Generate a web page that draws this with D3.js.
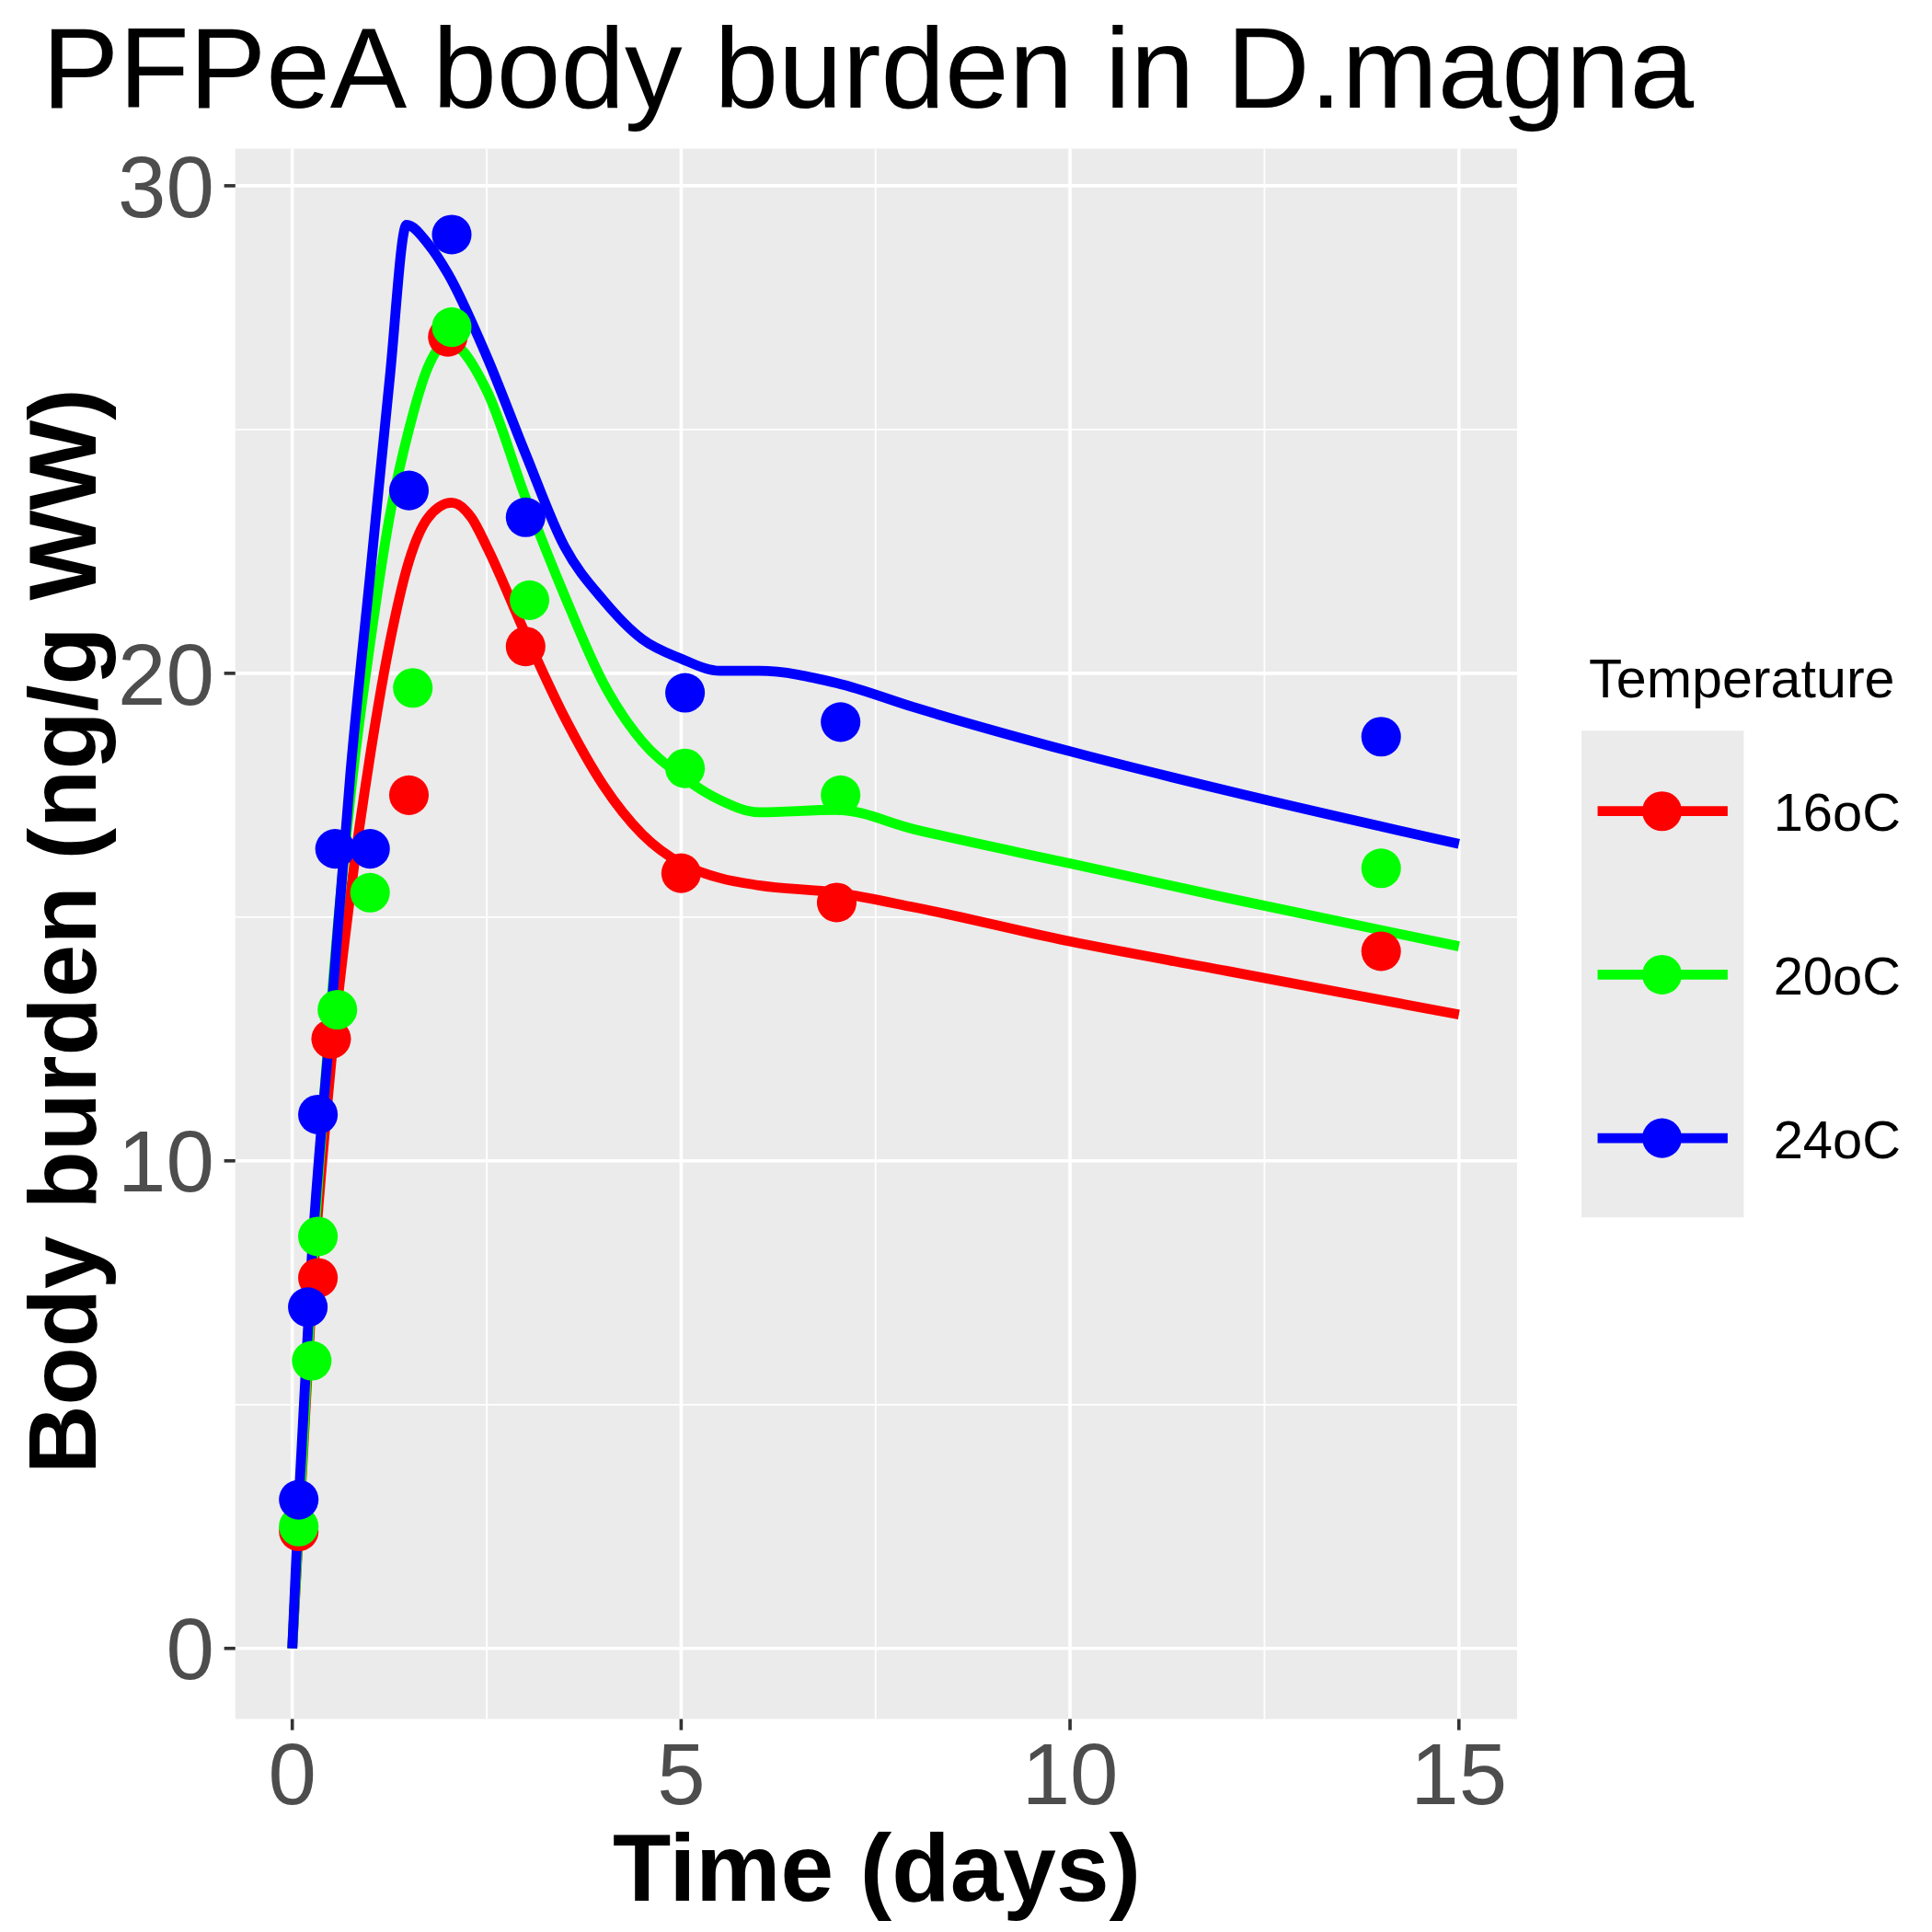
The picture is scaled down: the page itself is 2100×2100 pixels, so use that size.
<!DOCTYPE html><html><head><meta charset="utf-8"><script src="https://cdn.jsdelivr.net/npm/d3@7"></script>
<style>body{margin:0;background:#fff}text{font-family:Arial,"Liberation Sans",sans-serif}</style></head><body><script>
const series=["16oC","20oC","24oC"];
const colors=["#FF0000","#00FF00","#0000FF"];
const obs16=[[0.083,2.4],[0.33,7.6],[0.5,12.5],[1.5,17.5],[2,26.9],[3,20.55],[5,15.9],[7,15.3],[14,14.3]];
const obs20=[[0.083,2.5],[0.25,5.9],[0.33,8.45],[0.58,13.1],[1,15.5],[1.55,19.7],[2.05,27.1],[3.05,21.5],[5.05,18.05],[7.05,17.5],[14,16.0]];
const obs24=[[0.083,3.05],[0.2,7.0],[0.33,10.95],[0.55,16.4],[1.0,16.4],[1.5,23.75],[2.05,29.0],[3,23.2],[5.05,19.6],[7.05,19.0],[14,18.7]];
const fit16=[[0,0],[0.25,7.2],[0.5,12],[0.75,15.5],[1,18.3],[1.25,20.6],[1.5,22.3],[1.75,23.2],[2.05,23.5],[2.3,23.2],[2.5,22.6],[3,20.8],[3.5,19.1],[4,17.7],[4.5,16.7],[5,16.1],[5.5,15.8],[6,15.65],[7,15.5],[8,15.2],[10,14.5],[12,13.9],[15,13.0]];
const fit20=[[0,0],[0.25,7.5],[0.5,13.2],[0.75,17.5],[1,20.6],[1.25,23.2],[1.5,25],[1.75,26.3],[2,26.8],[2.5,25.8],[3,23.6],[3.5,21.6],[4,19.8],[4.5,18.6],[5,17.9],[5.5,17.4],[6,17.15],[7,17.2],[8,16.8],[10,16.1],[12,15.4],[15,14.4]];
const fit24=[[0,0],[0.083,3],[0.25,8],[0.5,13],[0.75,18],[1,22],[1.25,26],[1.47,29.2],[1.75,28.8],[2,28.2],[2.5,26.5],[3,24.5],[3.5,22.6],[4,21.5],[4.5,20.7],[5,20.3],[5.5,20.05],[6,20.05],[7,19.8],[8,19.3],[10,18.4],[12,17.6],[15,16.5]];
const obs=[obs16,obs20,obs24], fits=[fit16,fit20,fit24];
const xTicks=[0,5,10,15], yTicks=[0,10,20,30];
const svg=d3.select("body").append("svg").attr("width",2100).attr("height",2100).attr("viewBox","0 0 1560 1560");
const L=190,R=1225,T=120,B=1388;
const x=d3.scaleLinear().domain([0,15]).range([236,1178]);
const y=d3.scaleLinear().domain([0,30]).range([1331,150]);
svg.append("rect").attr("x",L).attr("y",T).attr("width",R-L).attr("height",B-T).attr("fill","#EBEBEB");
const g=svg.append("g");
[2.5,7.5,12.5].forEach(v=>g.append("line").attr("x1",x(v)).attr("x2",x(v)).attr("y1",T).attr("y2",B).attr("stroke","#fff").attr("stroke-width",1.3));
[5,15,25].forEach(v=>g.append("line").attr("y1",y(v)).attr("y2",y(v)).attr("x1",L).attr("x2",R).attr("stroke","#fff").attr("stroke-width",1.3));
xTicks.forEach(v=>g.append("line").attr("x1",x(v)).attr("x2",x(v)).attr("y1",T).attr("y2",B).attr("stroke","#fff").attr("stroke-width",2.7));
yTicks.forEach(v=>g.append("line").attr("y1",y(v)).attr("y2",y(v)).attr("x1",L).attr("x2",R).attr("stroke","#fff").attr("stroke-width",2.7));
const line=d3.line().x(d=>x(d[0])).y(d=>y(d[1])).curve(d3.curveMonotoneX);
fits.forEach((f,i)=>svg.append("path").attr("d",line(f)).attr("fill","none").attr("stroke",colors[i]).attr("stroke-width",8));
obs.forEach((o,i)=>o.forEach(d=>svg.append("circle").attr("cx",x(d[0])).attr("cy",y(d[1])).attr("r",16).attr("fill",colors[i])));
xTicks.forEach(v=>{svg.append("line").attr("x1",x(v)).attr("x2",x(v)).attr("y1",B).attr("y2",B+9).attr("stroke","#333").attr("stroke-width",2.7);
 svg.append("text").attr("x",x(v)).attr("y",1457).attr("text-anchor","middle").attr("font-size",70).attr("fill","#4D4D4D").text(v);});
yTicks.forEach(v=>{svg.append("line").attr("x1",L-9).attr("x2",L).attr("y1",y(v)).attr("y2",y(v)).attr("stroke","#333").attr("stroke-width",2.7);
 svg.append("text").attr("x",L-17).attr("y",y(v)+25).attr("text-anchor","end").attr("font-size",70).attr("fill","#4D4D4D").text(v);});
svg.append("text").attr("x",708).attr("y",1535).attr("text-anchor","middle").attr("font-size",77).attr("font-weight","bold").text("Time (days)");
svg.append("text").attr("transform","translate(77,752) rotate(-90)").attr("text-anchor","middle").attr("font-size",77).attr("font-weight","bold").text("Body burden (ng/g WW)");
svg.append("text").attr("x",34).attr("y",87).attr("font-size",93).text("PFPeA body burden in D.magna");
svg.append("text").attr("x",1283).attr("y",563).attr("font-size",44).text("Temperature");
svg.append("rect").attr("x",1277).attr("y",590).attr("width",131).attr("height",393).attr("fill","#EBEBEB");
series.forEach((s,i)=>{const yy=655+i*132;
 svg.append("line").attr("x1",1290).attr("x2",1395).attr("y1",yy).attr("y2",yy).attr("stroke",colors[i]).attr("stroke-width",8);
 svg.append("circle").attr("cx",1342).attr("cy",yy).attr("r",16).attr("fill",colors[i]);
 svg.append("text").attr("x",1432).attr("y",yy+16).attr("font-size",43).text(s);});
</script></body></html>
